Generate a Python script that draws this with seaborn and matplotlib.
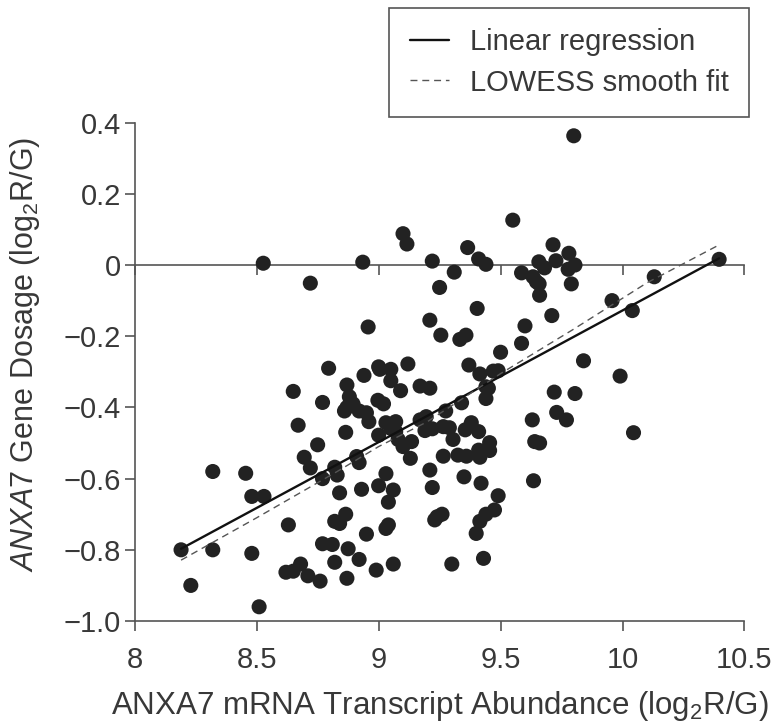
import numpy as np
import pandas as pd
import seaborn as sns
import matplotlib.pyplot as plt

# ---------------------------------------------------------------------------
# Data (log2 R/G values)
# ---------------------------------------------------------------------------
mrna = [
    8.19, 8.23, 8.32, 8.32, 8.455, 8.48, 8.53, 8.48, 8.51, 8.65,
    8.67, 8.63, 8.695, 8.72, 8.75, 8.77, 8.795, 8.77, 8.62, 8.65,
    8.68, 8.71, 8.76, 8.77, 8.81, 8.82, 8.82, 8.83, 8.84, 8.82,
    8.84, 8.865, 8.87, 8.875, 8.92, 8.91, 8.92, 8.93, 8.95, 8.99,
    9.00, 9.03, 9.06, 9.04, 9.03, 9.04, 9.06, 8.87, 8.88, 8.87,
    8.86, 8.895, 8.92, 8.95, 8.96, 8.865, 8.94, 9.00, 9.005, 9.05,
    9.05, 9.09, 9.12, 8.997, 9.02, 9.00, 9.03, 9.07, 9.05, 9.07,
    9.08, 9.10, 9.135, 9.13, 9.17, 9.21, 9.17, 9.195, 9.19, 9.22,
    9.275, 9.265, 9.29, 9.305, 9.265, 9.21, 9.22, 9.24, 9.26, 9.30,
    9.23,
    9.37, 9.415, 9.47, 9.49, 9.44, 9.45, 9.44, 9.34, 9.325, 9.36,
    9.355, 9.38, 9.41, 9.455, 9.455, 9.41, 9.415, 9.35, 9.42, 9.49,
    9.475, 9.44, 9.415, 9.40, 9.43, 9.63, 9.64, 9.66, 9.635, 9.72,
    9.805, 9.73, 9.77, 9.84, 9.99, 10.045,
    8.527, 8.72, 8.935, 9.10, 9.116, 9.22, 9.31, 9.25, 8.957, 9.21,
    9.255,
    9.80, 9.55, 9.365, 9.41, 9.44, 9.715, 9.657, 9.68, 9.727, 9.78,
    9.777, 9.805, 9.586, 9.633, 9.647, 9.658, 9.66, 9.79, 9.404, 9.71,
    9.333, 9.358, 9.60, 9.586, 9.50, 9.957, 10.04, 10.13, 10.396,
]
dosage = [
    -0.80, -0.90, -0.58, -0.80, -0.585, -0.65, -0.65, -0.81, -0.96, -0.355,
    -0.45, -0.73, -0.54, -0.57, -0.505, -0.386, -0.29, -0.60, -0.863, -0.86,
    -0.84, -0.873, -0.888, -0.783, -0.785, -0.835, -0.568, -0.59, -0.64, -0.72,
    -0.726, -0.70, -0.88, -0.797, -0.827, -0.538, -0.555, -0.63, -0.756, -0.857,
    -0.62, -0.586, -0.632, -0.666, -0.74, -0.73, -0.84, -0.337, -0.37, -0.40,
    -0.41, -0.39, -0.41, -0.415, -0.44, -0.47, -0.31, -0.286, -0.293, -0.293,
    -0.325, -0.353, -0.278, -0.38, -0.39, -0.478, -0.443, -0.44, -0.459, -0.468,
    -0.49, -0.51, -0.496, -0.543, -0.34, -0.346, -0.435, -0.426, -0.465, -0.46,
    -0.41, -0.454, -0.457, -0.49, -0.537, -0.576, -0.625, -0.707, -0.70, -0.84,
    -0.716,
    -0.281, -0.306, -0.298, -0.297, -0.342, -0.346, -0.375, -0.387, -0.534, -0.537,
    -0.463, -0.443, -0.468, -0.499, -0.521, -0.52, -0.54, -0.595, -0.613, -0.648,
    -0.688, -0.70, -0.72, -0.754, -0.824, -0.435, -0.496, -0.50, -0.606, -0.357,
    -0.361, -0.414, -0.435, -0.269, -0.312, -0.471,
    0.005, -0.051, 0.008, 0.088, 0.059, 0.011, -0.02, -0.063, -0.174, -0.155,
    -0.197,
    0.363, 0.126, 0.049, 0.017, 0.002, 0.057, 0.009, -0.008, 0.012, 0.033,
    -0.012, 0.0, -0.022, -0.033, -0.047, -0.053, -0.085, -0.053, -0.122, -0.142,
    -0.209, -0.197, -0.171, -0.22, -0.245, -0.10, -0.128, -0.033, 0.016,
]

# LOWESS curve as drawn in the figure
lowess_x = [8.19, 8.5, 8.83, 9.0, 9.2, 9.5, 9.8, 10.1, 10.4]
lowess_y = [-0.829, -0.71, -0.58, -0.51, -0.44, -0.305, -0.18, -0.05, 0.058]

x_ticks = [8, 8.5, 9, 9.5, 10, 10.5]
x_tick_labels = ['8', '8.5', '9', '9.5', '10', '10.5']
y_ticks = [0.4, 0.2, 0, -0.2, -0.4, -0.6, -0.8, -1.0]
y_tick_labels = ['0.4', '0.2', '0', '\u22120.2', '\u22120.4', '\u22120.6', '\u22120.8', '\u22121.0']

df = pd.DataFrame({'mrna': mrna, 'dosage': dosage})

# ---------------------------------------------------------------------------
# Style
# ---------------------------------------------------------------------------
sns.set_theme(style='ticks')
plt.rcParams['font.family'] = ['Liberation Sans', 'DejaVu Sans']
plt.rcParams['mathtext.fontset'] = 'custom'
plt.rcParams['mathtext.rm'] = 'Liberation Sans'
plt.rcParams['mathtext.it'] = 'Liberation Sans:italic'

AXIS_COL = '#555555'
TEXT_COL = '#383838'

fig = plt.figure(figsize=(7.76, 7.26), dpi=100)
ax = fig.add_axes([0.1736, 0.1446, 0.7858, 0.6865])

sns.scatterplot(data=df, x='mrna', y='dosage', s=118, color='#222222',
                edgecolor='none', linewidth=0, ax=ax, zorder=2)
sns.regplot(data=df, x='mrna', y='dosage', scatter=False, ci=None,
            color='#111111', line_kws={'lw': 1.7}, ax=ax)
reg_line = ax.lines[-1]
reg_line.set_label('Linear regression')
sns.lineplot(x=lowess_x, y=lowess_y, color='#555555', lw=1.0,
             linestyle=(0, (5, 3.5)), estimator=None, sort=False, ax=ax)
lowess_line = ax.lines[-1]
lowess_line.set_label('LOWESS smooth fit')

ax.set_xlim(8, 10.5)
ax.set_ylim(-1.0, 0.4)
ax.set_xticks(x_ticks, labels=x_tick_labels)
ax.set_yticks(y_ticks, labels=y_tick_labels)
for side in ['top', 'right']:
    ax.spines[side].set_visible(False)
for side in ['left', 'bottom']:
    ax.spines[side].set_color(AXIS_COL)
    ax.spines[side].set_linewidth(1.2)
ax.tick_params(axis='both', direction='out', length=7, width=1.2,
               color=AXIS_COL, labelcolor=TEXT_COL, labelsize=21)
ax.tick_params(axis='x', pad=11)
ax.tick_params(axis='y', pad=3)

# zero line with its own downward ticks
zero_ax = ax.secondary_xaxis(0, transform=ax.transData)
zero_ax.set_xticks(x_ticks, labels=[''] * len(x_ticks))
zero_ax.tick_params(direction='out', length=7, width=1.2, color=AXIS_COL)
zero_ax.spines['bottom'].set_color(AXIS_COL)
zero_ax.spines['bottom'].set_linewidth(1.2)

ax.set_xlabel('ANXA7 mRNA Transcript Abundance (log$_2$R/G)',
              fontsize=22.5, color=TEXT_COL, labelpad=11)
ax.set_ylabel(r'$\mathit{ANXA7}$ Gene Dosage (log$_2$R/G)',
              fontsize=22, color=TEXT_COL)
ax.yaxis.set_label_coords(-0.152, 0.534)

leg = ax.legend(handles=[reg_line, lowess_line], loc='upper right',
                bbox_to_anchor=(749 / 776, 718 / 726),
                bbox_transform=fig.transFigure, frameon=True, fancybox=False,
                framealpha=1, edgecolor=AXIS_COL, fontsize=21,
                handlelength=1.35, handletextpad=0.7, borderpad=0.7,
                labelspacing=0.42, borderaxespad=0)
leg.get_frame().set_linewidth(1.2)
for t in leg.get_texts():
    t.set_color(TEXT_COL)

fig.savefig('out.png', dpi=100)
